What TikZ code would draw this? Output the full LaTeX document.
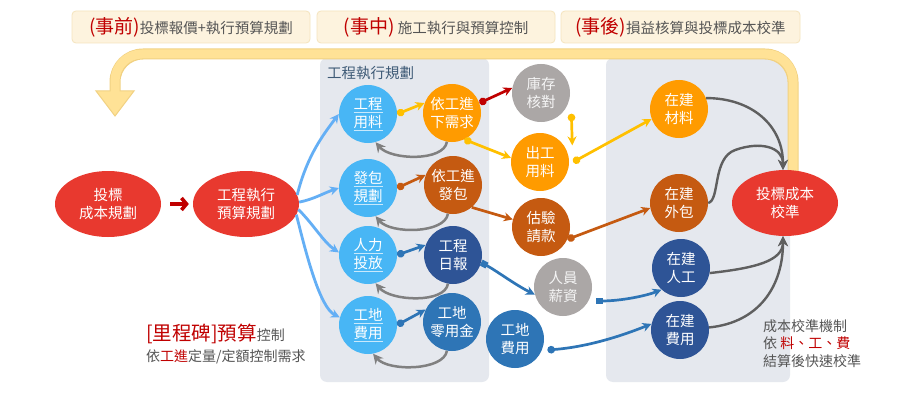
\documentclass[tikz,border=0pt]{standalone}
\usepackage{fontspec}
\setmainfont{Noto Sans CJK TC}
\usetikzlibrary{arrows.meta,shapes.geometric,calc}
\definecolor{cLB}{RGB}{72,182,245}
\definecolor{cOR}{RGB}{255,155,0}
\definecolor{cDO}{RGB}{197,90,17}
\definecolor{cGR}{RGB}{171,167,166}
\definecolor{cDB}{RGB}{46,84,150}
\definecolor{cMB}{RGB}{46,117,182}
\definecolor{cRD}{RGB}{232,57,47}
\definecolor{cPanel}{RGB}{229,232,238}
\definecolor{cBanF}{RGB}{253,243,222}
\definecolor{cBanD}{RGB}{245,228,190}
\definecolor{cBand}{RGB}{255,226,150}
\definecolor{cBandD}{RGB}{241,209,130}
\definecolor{cYel}{RGB}{255,192,0}
\definecolor{cDR}{RGB}{192,0,0}
\definecolor{cGA}{RGB}{128,128,128}
\definecolor{cDG}{RGB}{95,95,95}
\definecolor{cLA}{RGB}{100,175,245}
\definecolor{cTxt}{RGB}{85,85,85}
\definecolor{cLbl}{RGB}{62,90,118}
\newcommand\ulw[1]{\leavevmode\setbox0=\hbox{#1}\rlap{\textcolor{white!70!cLB}{\rule[-3pt]{\wd0}{0.7pt}}}\box0}
\begin{document}
\begin{tikzpicture}[x=1pt,y=-1pt,
  bub/.style={circle,minimum size=58pt,inner sep=0pt,text=white,align=center,font=\fontsize{14.5}{18.5}\selectfont},
  lbn/.style={bub,fill=cLB},
  orn/.style={bub,fill=cOR},
  don/.style={bub,fill=cDO},
  grn/.style={bub,fill=cGR,text=white!96!black},
  dbn/.style={bub,fill=cDB},
  mbn/.style={bub,fill=cMB},
  redell/.style={ellipse,fill=cRD,minimum width=106pt,minimum height=66pt,inner sep=0pt,text=white,align=center,font=\fontsize{14.5}{18}\selectfont},
  dotarr/.style={line width=2.7pt,{Circle[length=7.5pt]}-{Stealth[length=9pt,width=9pt]}},
  sqarr/.style={line width=2.7pt,{Square[length=6.5pt]}-{Stealth[length=9pt,width=9pt]}},
  plainarr/.style={line width=2.7pt,-{Stealth[length=9pt,width=9pt]}},
  backarr/.style={line width=2.5pt,draw=cGA,-{Stealth[length=10pt,width=10pt,fill=cGA]}},
  blarr/.style={line width=2.8pt,draw=cLA,-{Stealth[length=9pt,width=9pt,fill=cLA]}},
  toE/.style={line width=2.4pt,draw=cDG,-{Stealth[length=10pt,width=10pt,fill=black!75]}},
  banner/.style={draw=cBanD,fill=cBanF,line width=0.8pt,rounded corners=4pt,minimum width=238pt,minimum height=32pt,inner sep=0pt},
  note/.style={inner sep=0pt,text=cTxt,font=\fontsize{14}{17.5}\selectfont}
]
\useasboundingbox (0,0) rectangle (900,412);
\fill[white] (0,0) rectangle (900,412);

% banners
\node[banner] (T1) at (191,27) {\textcolor{cDR}{\fontsize{19}{22}\selectfont (事前)}\textcolor{cTxt}{\fontsize{14.5}{16}\selectfont 投標報價+執行預算規劃}};
\node[banner] (T2) at (436,27) {\textcolor{cDR}{\fontsize{19}{22}\selectfont (事中)}\textcolor{cTxt}{\fontsize{14.5}{16}\selectfont\ 施工執行與預算控制}};
\node[banner,minimum width=239pt] (T3) at (680.5,27) {\textcolor{cDR}{\fontsize{19}{22}\selectfont (事後)}\textcolor{cTxt}{\fontsize{14.5}{16}\selectfont 損益核算與投標成本校準}};

% panels
\fill[cPanel, rounded corners=7pt] (320,58) rectangle (489,382);
\fill[cPanel, rounded corners=7pt] (606,58) rectangle (790,382);
\node[anchor=west,inner sep=0pt,text=cLbl,font=\fontsize{14.5}{16}\selectfont] (L) at (327,73) {工程執行規劃};

% nodes
\node[redell] (P0) at (108,204) {投標\\成本規劃};
\node[redell] (P1) at (246,204) {工程執行\\預算規劃};

\node[lbn] (A1) at (368,114) {\ulw{工程}\\\ulw{用料}};
\node[lbn] (A2) at (368,188) {\ulw{發包}\\\ulw{規劃}};
\node[lbn] (A3) at (368,255) {\ulw{人力}\\\ulw{投放}};
\node[lbn] (A4) at (368,325) {\ulw{工地}\\\ulw{費用}};

\node[orn] (B1) at (452,113) {依工進\\下需求};
\node[don] (B2) at (453,185) {依工進\\發包};
\node[dbn] (B3) at (453,255) {工程\\日報};
\node[mbn] (B4) at (452,322) {工地\\零用金};

\node[grn] (C0) at (541,93) {庫存\\核對};
\node[orn] (C1) at (540,162) {出工\\用料};
\node[don] (C2) at (541,227) {估驗\\請款};
\node[grn] (C3) at (563,287) {人員\\薪資};
\node[mbn] (C4) at (515,339) {工地\\費用};

\node[orn] (D1) at (679,109) {在建\\材料};
\node[don] (D2) at (679,203) {在建\\外包};
\node[dbn] (D3) at (681,268) {在建\\人工};
\node[dbn] (D4) at (680,330) {在建\\費用};

% feedback band
\coordinate (Ftop) at (0,54);
\coordinate (Fend) at (115,92);
\coordinate (Eb) at (793,176);
\draw[cBandD, line width=11pt, rounded corners=28pt] (Eb) -- (Eb |- Ftop) -| (Fend);
\filldraw[fill=cBand, draw=cBandD, line width=1pt] (96,91) -- (134,91) -- (115,116) -- cycle;
\draw[cBand, line width=9pt, rounded corners=27pt] (Eb) -- (Eb |- Ftop) -| ([yshift=-1.5pt]Fend);

\node[redell] (E) at (785,203) {投標成本\\校準};

% red arrow between ellipses
\draw[cDR, line width=3.6pt, -{Straight Barb[length=5pt,width=12pt]}, shorten <=9pt, shorten >=4pt] (P0.east) -- (P1.west);

% light blue fan
\draw[blarr] (P1.10) .. controls +(10,-40) and +(-15,20) .. (A1.180);
\draw[blarr] (P1.2) .. controls +(15,-3) and +(-15,5) .. (A2.west);
\draw[blarr] (P1.-6) .. controls +(15,15) and +(-15,-10) .. (A3.175);
\draw[blarr] (P1.-12) .. controls +(10,40) and +(-20,-10) .. (A4.165);

% forward connectors
\draw[dotarr, cYel] (A1.east) -- (B1.160);
\draw[dotarr, cDR] (B1.20) -- (C0.170);
\draw[dotarr, cYel] (B1.-65) -- (C1.172);
\draw[dotarr, cYel] ([shift={(8,2)}]C0.-40) -- ([shift={(7,-2)}]C1.30);
\draw[dotarr, cYel] ([xshift=4pt]C1.east) -- (D1.200);

\draw[dotarr, cDO] (A2.east) -- (B2.160);
\draw[plainarr, cDO] (B2.-50) -- (C2.165);
\draw[dotarr, cDO] (C2.-25) -- (D2.190);

\draw[dotarr, cMB] (A3.east) -- (B3.160);
\draw[sqarr, cMB] (B3.-15) .. controls +(15,8) and +(-20,-10) .. (C3.195);
\draw[sqarr, cMB] ([shift={(6,4)}]C3.-20) .. controls +(25,0) and +(-15,6) .. (D3.228);

\draw[dotarr, cMB] (A4.east) -- (B4.155);
\draw[dotarr, cMB] ([shift={(5,1)}]C4.-20) .. controls +(40,-3) and +(-30,12) .. (D4.168);

% gray back arcs
\draw[backarr] (B1.-100) .. controls +(-3,20) and +(15,18) .. (A1.-75);
\draw[backarr] (B2.-100) .. controls +(-3,20) and +(15,18) .. (A2.-75);
\draw[backarr] (B3.-100) .. controls +(-3,20) and +(15,18) .. (A3.-75);
\draw[backarr] (B4.-100) .. controls +(-3,20) and +(15,18) .. (A4.-80);

% to E
\draw[toE] (D1.22) .. controls +(45,0) and +(0,-45) .. ([xshift=-2pt]E.north);
\draw[toE] (D2.east) .. controls +(12,-3) and +(-23,8) .. ($(D2.east)+(27,-53)$) .. controls +(25,-9) and +(0,-23) .. ([xshift=-2pt]E.north);
\draw[toE] (D3.-10) .. controls +(45,-5) and +(0,25) .. ([xshift=-2pt]E.south);
\draw[toE] (D4.5) .. controls +(50,-5) and +(0,50) .. ([xshift=-2pt]E.south);

% notes
\node[note,anchor=base west] (N1) at (146,340) {\textcolor{cDR}{\fontsize{19.5}{22}\selectfont [里程碑]預算}控制};
\node[note,anchor=base west] (N2) at (146,361) {依\textcolor{cDR}{工進}定量/定額控制需求};
\node[note,anchor=north west,align=left] (N3) at (763,319) {成本校準機制\\依 \textcolor{cDR}{料、工、費}\\結算後快速校準};
\end{tikzpicture}
\end{document}
